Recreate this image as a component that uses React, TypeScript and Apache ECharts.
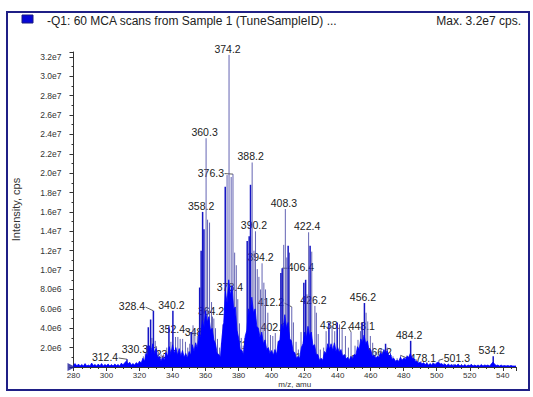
import React, { useEffect, useRef } from 'react';
import * as echarts from 'echarts';

// ---------- axes ----------
const MZ_MIN = 280;
const MZ_MAX = 548;
const MZ_STEP = 20;
const INT_MAX = 32.5; // intensity axis top, in millions of cps
const INT_STEP = 2;

// ---------- texts ----------
const titleText = '-Q1: 60 MCA scans from Sample 1 (TuneSampleID) ...';
const maxText = 'Max. 3.2e7 cps.';
const xName = 'm/z, amu';
const yName = 'Intensity, cps';

// ---------- dense blue signal (m/z, intensity in 1e6 cps) ----------
const envLow = [
  [280, 0.2], [281, 0.35], [282, 0.1], [283, 0.3], [284, 0.1], [285, 0.25], [286, 0.1], [287, 0.35], [288, 0.1], [289, 0.2],
  [290, 0.1], [291, 0.4], [292, 0.15], [293, 0.25], [294, 0.1], [295, 0.3], [296, 0.1], [297, 0.35], [298, 0.1], [299, 0.25],
  [300, 0.15], [301, 0.3], [302, 0.1], [303, 0.25], [304, 0.1], [305, 0.3], [306, 0.15], [307, 0.25], [308, 0.1], [309, 0.4],
  [310, 0.2], [311, 0.45], [312, 0.6], [313, 0.3], [314, 0.5], [315, 0.2], [316, 0.35], [317, 0.2], [318, 0.45], [319, 0.3],
];
const envA = [
  [320, 0.6], [321, 0.4], [322, 0.9], [323, 0.6], [324, 1.4], [325, 1.0], [326, 2.2], [327, 1.4], [328, 2.4], [329, 1.3],
  [330, 1.9], [331, 0.9], [332, 1.1], [333, 0.6], [334, 1.0], [335, 0.7], [336, 1.5], [337, 1.1], [338, 2.1], [339, 1.3],
  [340, 2.3], [341, 1.4], [342, 2.0], [343, 1.2], [344, 1.9], [345, 1.1], [346, 1.7], [347, 1.0], [348, 1.4], [349, 0.9],
  [350, 1.6], [351, 1.2], [352, 2.3], [353, 1.6], [354, 2.5], [355, 1.9], [356, 3.6], [357, 3.0], [358, 4.8], [359, 4.0],
  [360, 5.8], [361, 4.6], [362, 5.2], [363, 3.8], [364, 4.0], [365, 2.8], [366, 2.4], [367, 1.4], [368, 1.3], [369, 1.0],
];
const envB = [
  [370, 3.2], [371, 4.6], [372, 7.8], [373, 6.6], [374, 9.0], [375, 7.4], [376, 8.4], [377, 6.0], [378, 6.2], [379, 3.8],
  [380, 3.0], [381, 1.8], [382, 1.7], [383, 1.3], [384, 3.2], [385, 3.8], [386, 6.0], [387, 5.4], [388, 7.2], [389, 5.6],
  [390, 6.0], [391, 4.2], [392, 4.0], [393, 3.0], [394, 3.6], [395, 2.4], [396, 2.8], [397, 1.8], [398, 2.0], [399, 1.4],
  [400, 1.7], [401, 1.2], [402, 1.8], [403, 1.3], [404, 2.6], [405, 2.8], [406, 4.4], [407, 3.9], [408, 5.4], [409, 4.0],
  [410, 4.6], [411, 2.9], [412, 2.7], [413, 1.6], [414, 1.5], [415, 0.9], [416, 1.1], [417, 0.9], [418, 2.0], [419, 2.4],
  [420, 3.6], [421, 3.0], [422, 4.2], [423, 3.2], [424, 3.6], [425, 2.2], [426, 2.3], [427, 1.3], [428, 1.3], [429, 0.7],
];
const envC = [
  [430, 0.9], [431, 0.7], [432, 1.6], [433, 1.4], [434, 2.4], [435, 1.8], [436, 2.4], [437, 1.7], [438, 2.5], [439, 1.6],
  [440, 2.0], [441, 1.5], [442, 1.8], [443, 1.1], [444, 1.3], [445, 0.8], [446, 1.0], [447, 0.7], [448, 1.1], [449, 0.8],
  [450, 1.3], [451, 1.2], [452, 2.1], [453, 1.8], [454, 2.9], [455, 2.5], [456, 3.3], [457, 2.4], [458, 2.7], [459, 1.7],
  [460, 1.8], [461, 1.1], [462, 1.2], [463, 0.9], [464, 1.1], [465, 1.0], [466, 1.5], [467, 1.2], [468, 1.8], [469, 1.4],
  [470, 1.7], [471, 1.1], [472, 1.3], [473, 0.8], [474, 0.9], [475, 0.6], [476, 0.7], [477, 0.6], [478, 1.0], [479, 0.7],
  [480, 0.9], [481, 0.8], [482, 1.1], [483, 1.0], [484, 1.4], [485, 0.9], [486, 0.9], [487, 0.6], [488, 0.6], [489, 0.4],
];
const envTail = [
  [490, 0.5], [491, 0.3], [492, 0.45], [493, 0.25], [494, 0.4], [495, 0.2], [496, 0.35], [497, 0.2], [498, 0.4], [499, 0.25],
  [500, 0.45], [501, 0.5], [502, 0.3], [503, 0.35], [504, 0.2], [505, 0.3], [506, 0.15], [507, 0.3], [508, 0.15], [509, 0.25],
  [510, 0.1], [511, 0.25], [512, 0.15], [513, 0.3], [514, 0.1], [515, 0.2], [516, 0.1], [517, 0.25], [518, 0.1], [519, 0.2],
  [520, 0.15], [521, 0.25], [522, 0.1], [523, 0.2], [524, 0.1], [525, 0.2], [526, 0.1], [527, 0.25], [528, 0.1], [529, 0.2],
  [530, 0.15], [531, 0.2], [532, 0.1], [533, 0.3], [534, 0.5], [535, 0.3], [536, 0.15], [537, 0.2], [538, 0.1], [539, 0.2],
  [540, 0.1], [541, 0.15], [542, 0.1], [543, 0.15], [544, 0.1], [545, 0.15], [546, 0.1], [547, 0.1], [548, 0.1],
];

// ---------- centroid sticks (m/z, intensity in 1e6 cps) ----------
const strongSticks = [
  [312.4, 0.8], [324.6, 2.2], [325.3, 4.1], [326.7, 4.9], [328.4, 5.8], [337.8, 4.2], [340.2, 5.8], [351.3, 3.6],
  [356.4, 8.2], [357.3, 12.0], [358.2, 16.0], [359.0, 14.2], [370.7, 4.4], [371.9, 18.6], [385.2, 13.0], [386.4, 13.5],
  [387.2, 18.8], [405.6, 9.7], [406.4, 10.2], [410.0, 12.5], [419.5, 8.7], [420.6, 9.0], [423.3, 12.5], [434.7, 4.6],
  [439.7, 4.6], [454.8, 4.6], [456.2, 6.6], [469.0, 2.4], [484.2, 2.7], [534.2, 1.1],
];
const faintSticks = [
  [322.3, 1.1], [323.5, 1.4], [327.5, 3.0], [329.5, 2.7], [330.3, 2.1], [331.4, 1.6], [333.0, 1.3], [334.5, 1.3],
  [336.5, 2.0], [339.0, 2.6], [341.8, 3.1], [343.2, 3.1], [344.6, 2.9], [346.1, 2.9], [347.8, 2.6], [349.2, 2.0],
  [350.4, 2.4], [352.4, 4.3], [353.5, 3.8], [355.0, 3.2], [360.3, 23.6], [361.2, 15.2], [362.4, 14.9], [363.6, 6.7],
  [364.2, 5.2], [365.0, 5.0], [366.0, 4.0], [367.2, 2.9], [368.5, 2.0], [369.6, 2.5], [373.0, 19.8], [374.2, 32.2],
  [375.5, 19.6], [376.6, 19.9], [377.6, 11.8], [378.6, 10.5], [379.5, 7.0], [380.5, 4.5], [381.6, 3.0], [382.8, 2.2],
  [383.8, 3.0], [388.2, 21.1], [389.3, 12.0], [390.2, 14.0], [391.3, 10.1], [392.3, 9.3], [393.3, 8.0], [394.2, 10.7],
  [395.3, 8.7], [396.3, 8.0], [397.7, 5.6], [399.3, 3.3], [400.7, 3.2], [402.2, 3.5], [404.0, 2.7], [407.3, 12.6],
  [408.3, 16.3], [409.2, 11.3], [410.8, 11.8], [412.2, 6.2], [413.2, 4.6], [414.8, 2.6], [416.2, 1.8], [417.8, 3.6],
  [421.4, 7.5], [422.4, 13.9], [424.3, 11.9], [426.2, 6.3], [427.1, 5.6], [428.2, 3.4], [429.5, 1.8], [431.5, 2.0],
  [433.0, 3.7], [436.6, 4.2], [438.2, 3.7], [441.1, 4.4], [442.7, 3.9], [444.7, 3.2], [446.5, 2.0], [448.1, 3.6],
  [450.5, 2.2], [452.3, 2.8], [453.8, 3.7], [457.2, 5.6], [458.2, 4.7], [459.8, 3.2], [461.2, 2.5], [462.8, 1.6],
  [464.5, 1.3], [466.2, 1.9], [467.5, 1.6], [470.0, 2.0], [472.0, 1.5], [473.5, 1.1], [476.0, 0.9], [478.1, 1.2],
  [480.3, 1.0], [482.0, 1.2], [485.5, 1.2], [487.5, 0.8], [490.5, 0.6], [494.0, 0.5], [497.5, 0.45], [501.3, 0.7],
  [504.5, 0.4], [510.0, 0.3], [515.0, 0.3], [521.0, 0.3],
];

// ---------- peak annotations ----------
// labels drawn right above their peak
const topLabels = [374.2, 360.3, 388.2, 358.2, 408.3, 422.4, 456.2, 484.2, 534.2, 340.2, 390.2, 394.2, 364.2, 402.2, 426.2, 438.2];
// labels moved aside: text, label centre (m/z, intensity), peak it points to, side of the leader
const movedLabelText = ['328.4', '376.3', '406.4', '412.2', '448.1', '352.4', '330.3', '371.6', '312.4', '478.1', '501.3', '348.1', '323.5', '419.3', '431.8', '466.2', '378.4'];
const movedLabelAt = [
  [315.4, 6.28], [363.2, 20.06], [417.7, 10.29], [399.55, 6.69], [454.6, 4.22], [339.6, 3.91], [317.2, 1.85], [382.6, 2.26],
  [299.1, 1.03], [491.6, 0.93], [512.2, 0.93], [355.4, 3.6], [334.2, 1.34], [418.9, 1.03], [443.7, 0.82], [464.9, 1.54], [374.7, 8.23],
];
const movedLabelPeak = [
  [328.4, 5.8], [376.6, 19.9], [406.4, 10.2], [412.2, 6.2], [448.1, 3.6], [352.4, 3.4], [330.3, 2.1], [371.6, 1.5],
  [312.4, 0.8], [478.1, 1.2], [501.3, 0.7], null, null, null, null, null, null,
];
const movedLabelSide = ['r', 'r', 'l', 'r', 'l', 'r', 'r', 'l', 'r', 'l', 'l', '', '', '', '', '', ''];

const FONT = 'Arial, "Liberation Sans", Helvetica, sans-serif';
const LABEL_SIZE = 10.5;

function measure(s: string, size: number): number {
  const c = document.createElement('canvas').getContext('2d');
  if (!c) return s.length * size * 0.52;
  c.font = `${size}px ${FONT}`;
  return c.measureText(s).width;
}

function lookup(mz: number): number {
  const all = strongSticks.concat(faintSticks);
  const f = all.find((p) => Math.abs(p[0] - mz) < 0.01);
  return f ? f[1] : 0;
}

function stickRenderer(color: string, width: number) {
  return (params: any, api: any) => {
    const x = api.value(0);
    const y = api.value(1);
    const p0 = api.coord([x, 0]);
    const p1 = api.coord([x, y]);
    return {
      type: 'line',
      shape: { x1: p0[0], y1: p0[1], x2: p1[0], y2: p1[1] },
      style: { stroke: color, lineWidth: width },
    };
  };
}

export default function App() {
  const ref = useRef<HTMLDivElement>(null);

  useEffect(() => {
    if (!ref.current) return;
    const chart = echarts.init(ref.current, undefined, { renderer: 'svg' });

    const envelope = [...envLow, ...envA, ...envB, ...envC, ...envTail];

    const option: any = {
      animation: false,
      backgroundColor: '#ffffff',
      grid: { left: 73.5, right: 17, top: 52, bottom: 30, containLabel: false },
      xAxis: {
        type: 'value',
        min: MZ_MIN,
        max: MZ_MAX,
        interval: MZ_STEP,
        name: xName,
        nameLocation: 'middle',
        nameGap: 13.5,
        nameMoveOverlap: false,
        nameTextStyle: { fontFamily: FONT, fontSize: 8, color: '#333', verticalAlign: 'top' },
        axisLine: { show: true, lineStyle: { color: '#333', width: 1 } },
        axisTick: { show: true, length: 4, lineStyle: { color: '#333' } },
        minorTick: { show: true, splitNumber: 4, length: 2, lineStyle: { color: '#333' } },
        splitLine: { show: false },
        axisLabel: {
          margin: 4,
          fontFamily: FONT,
          fontSize: 8,
          color: '#333',
          formatter: (v: number) => (v % MZ_STEP === 0 ? String(v) : ''),
        },
      },
      yAxis: {
        type: 'value',
        min: 0,
        max: INT_MAX,
        interval: INT_STEP,
        name: yName,
        nameLocation: 'middle',
        nameGap: 52,
        nameMoveOverlap: false,
        nameTextStyle: { fontFamily: FONT, fontSize: 11, color: '#333' },
        axisLine: { show: true, lineStyle: { color: '#333', width: 1 } },
        axisTick: { show: true, length: 4, lineStyle: { color: '#333' } },
        minorTick: { show: true, splitNumber: 2, length: 2, lineStyle: { color: '#333' } },
        splitLine: { show: false },
        axisLabel: {
          margin: 12,
          fontFamily: FONT,
          fontSize: 8.5,
          color: '#333',
          formatter: (v: number) => {
            if (v === 0 || v > 32.01) return '';
            return (v * 1e6).toExponential(1).replace('e+', 'e');
          },
        },
      },
      graphic: [
        {
          type: 'rect',
          shape: { x: 7, y: 12, width: 522, height: 378 },
          style: { fill: 'none', stroke: '#1f1f86', lineWidth: 2 },
          silent: true,
          z: 100,
        },
        {
          type: 'rect',
          shape: { x: 22, y: 15, width: 11, height: 8 },
          style: { fill: '#0707d6', stroke: '#1a1a80', lineWidth: 1 },
          z: 100,
        },
        {
          type: 'text',
          x: 47,
          y: 21,
          style: { text: titleText, fontFamily: FONT, fontSize: 12, fill: '#222', align: 'left', verticalAlign: 'middle' },
          z: 100,
        },
        {
          type: 'text',
          x: 521,
          y: 21,
          style: { text: maxText, fontFamily: FONT, fontSize: 12, fill: '#222', align: 'right', verticalAlign: 'middle' },
          z: 100,
        },
      ],
      series: [
        {
          name: 'labels',
          type: 'custom',
          z: 1,
          clip: false,
          silent: true,
          encode: { x: 0, y: 1 },
          data: topLabels.map((m) => [m, lookup(m)]),
          renderItem: (params: any, api: any) => {
            const p = api.coord([api.value(0), api.value(1)]);
            const t = topLabels[params.dataIndex].toFixed(1);
            return {
              type: 'text',
              x: p[0] - 1.5,
              y: p[1] - 0.5,
              style: { text: t, fontFamily: FONT, fontSize: LABEL_SIZE, fill: '#222', align: 'center', verticalAlign: 'bottom' },
            };
          },
        },
        {
          name: 'movedLabels',
          type: 'custom',
          z: 1,
          clip: false,
          silent: true,
          encode: { x: 0, y: 1 },
          data: movedLabelAt,
          renderItem: (params: any, api: any) => {
            const i = params.dataIndex;
            const c = api.coord([api.value(0), api.value(1)]);
            const text = movedLabelText[i];
            const children: any[] = [
              {
                type: 'text',
                x: c[0],
                y: c[1],
                style: { text, fontFamily: FONT, fontSize: LABEL_SIZE, fill: '#222', align: 'center', verticalAlign: 'middle' },
              },
            ];
            const peak = movedLabelPeak[i];
            if (peak) {
              const w = measure(text, LABEL_SIZE);
              const side = movedLabelSide[i];
              const sx = side === 'r' ? c[0] + w / 2 + 0.5 : c[0] - w / 2 - 0.5;
              const t = api.coord(peak);
              children.push({
                type: 'line',
                shape: { x1: sx, y1: c[1] + 1, x2: t[0], y2: t[1] },
                style: { stroke: '#333', lineWidth: 0.8 },
              });
            }
            return { type: 'group', children };
          },
        },
        {
          name: 'faint sticks',
          type: 'custom',
          z: 2,
          silent: true,
          encode: { x: 0, y: 1 },
          data: faintSticks,
          renderItem: stickRenderer('#5252aa', 0.9),
        },
        {
          name: 'strong sticks',
          type: 'custom',
          z: 3,
          silent: true,
          encode: { x: 0, y: 1 },
          data: strongSticks,
          renderItem: stickRenderer('#1515c4', 1.5),
        },
        {
          name: 'signal',
          type: 'line',
          z: 4,
          silent: true,
          data: envelope,
          symbol: 'none',
          lineStyle: { color: '#0000ff', width: 0.8 },
          areaStyle: { color: '#0000ff', opacity: 1 },
        },
        {
          name: 'origin',
          type: 'scatter',
          z: 5,
          silent: true,
          clip: false,
          data: [[MZ_MIN, 0]],
          symbol: 'triangle',
          symbolRotate: -90,
          symbolSize: [8, 8],
          symbolOffset: [-2, 0],
          itemStyle: { color: '#1a1a9a' },
        },
      ],
    };

    chart.setOption(option);
    return () => chart.dispose();
  }, []);

  return (
    <div
      ref={ref}
      style={{ position: 'absolute', left: 0, top: 0, width: 533, height: 397, background: '#fff' }}
    />
  );
}
